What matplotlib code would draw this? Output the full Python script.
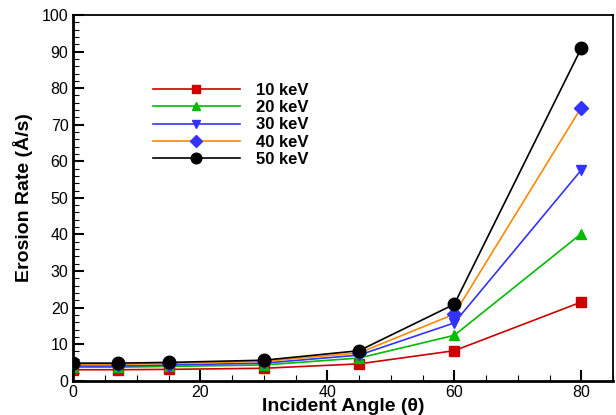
import matplotlib.pyplot as plt
from matplotlib.ticker import MultipleLocator

plt.rcParams['font.family'] = ['Liberation Sans', 'DejaVu Sans']

# Data
angle = [0, 7, 15, 30, 45, 60, 80]
rate_10 = [3.0, 3.0, 3.1, 3.4, 4.6, 8.2, 21.5]
rate_20 = [3.7, 3.7, 3.9, 4.3, 6.2, 12.4, 40.2]
rate_30 = [4.0, 4.0, 4.3, 4.8, 7.0, 15.8, 57.6]
rate_40 = [4.5, 4.5, 4.7, 5.3, 7.6, 18.2, 74.7]
rate_50 = [4.8, 4.8, 5.0, 5.6, 8.2, 20.9, 90.9]
labels = ['10 keV', '20 keV', '30 keV', '40 keV', '50 keV']

fig = plt.figure(figsize=(6.16, 4.15), dpi=100)
ax = fig.add_axes([73.3 / 616, 1 - 380.7 / 415, (613 - 73.3) / 616, (380.7 - 15) / 415])

ax.plot(angle, rate_10, color='#cc0000', marker='s', ms=7, lw=1.2, label=labels[0])
ax.plot(angle, rate_20, color='#00bb00', marker='^', ms=7.5, lw=1.2, label=labels[1])
ax.plot(angle, rate_30, color='#3333ff', marker='v', ms=7.5, lw=1.2, label=labels[2])
ax.plot(angle, rate_40, color='#ff8800', marker='D', ms=7, lw=1.2, label=labels[3],
        markerfacecolor='#3333ff', markeredgecolor='#3333ff')
ax.plot(angle, rate_50, color='black', marker='o', ms=9, lw=1.2, label=labels[4])

ax.set_xlim(0, 85)
ax.set_ylim(0, 100)
ax.xaxis.set_major_locator(MultipleLocator(20))
ax.xaxis.set_minor_locator(MultipleLocator(5))
ax.yaxis.set_major_locator(MultipleLocator(10))
ax.yaxis.set_minor_locator(MultipleLocator(2))
ax.tick_params(which='both', direction='in', top=False, right=False, labelsize=11.5)
ax.tick_params(which='major', length=8, width=1.5)
ax.tick_params(which='minor', length=4, width=0.8)
ax.tick_params(axis='x', pad=3)

for side in ['left', 'bottom']:
    ax.spines[side].set_linewidth(2)
for side in ['top', 'right']:
    ax.spines[side].set_linewidth(1.3)

ax.set_xlabel('Incident Angle (\u03b8)', fontsize=14, fontweight='bold', labelpad=-1)
ax.set_ylabel('Erosion Rate (\u00c5/s)', fontsize=14, fontweight='bold', labelpad=6)

leg = ax.legend(loc='upper left', bbox_to_anchor=(0.12, 0.855), frameon=False,
                prop={'weight': 'bold', 'size': 12},
                handlelength=5.2, labelspacing=0.13, handletextpad=1.0,
                markerscale=0.85)

fig.savefig('out.png', dpi=100)
